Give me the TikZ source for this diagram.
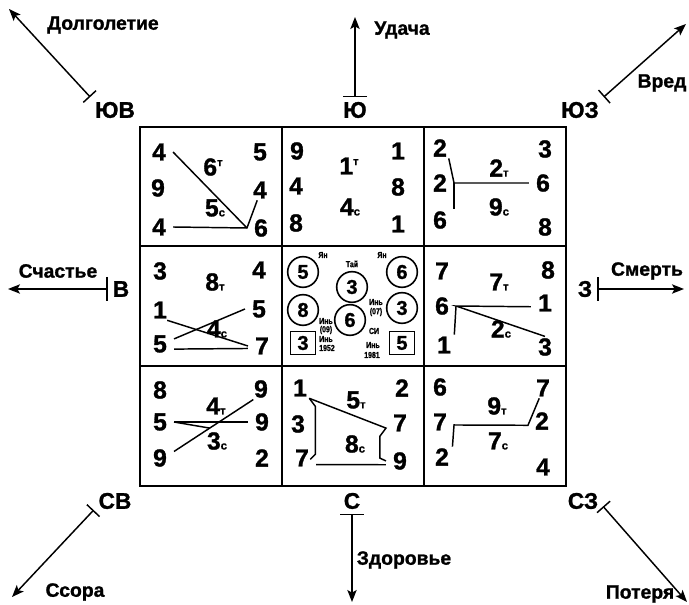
\documentclass[tikz,border=0pt]{standalone}
\usepackage{fontspec}
\setmainfont{Liberation Sans}[BoldFeatures={FakeBold=1.2}]
\newfontfamily\condfont[FakeStretch=0.8,BoldFeatures={FakeBold=1}]{Liberation Sans}
\usetikzlibrary{arrows.meta,calc}

\tikzset{every picture/.style={line width=0.75pt}}
\tikzset{
  digit/.style={inner xsep=5pt,inner ysep=1pt,font=\fontsize{18.5}{18.5}\selectfont\bfseries},
  ring/.style={draw,circle,line width=1.2pt,minimum size=23pt,inner sep=0pt,font=\fontsize{15}{15}\selectfont\bfseries},
  sqbox/.style={draw,rectangle,line width=1.2pt,minimum width=19pt,minimum height=17pt,inner sep=0pt,font=\fontsize{15}{15}\selectfont\bfseries},
  tinylbl/.style={inner sep=0pt,font=\condfont\fontsize{6.5}{6.5}\selectfont\bfseries},
  dirlbl/.style={font=\fontsize{17}{17}\selectfont\bfseries},
  sectorlbl/.style={font=\fontsize{14.5}{14.5}\selectfont\bfseries},
  flyline/.style={line width=1.1pt},
  dirarrow/.style={line width=1.1pt,{Bar[width=#1]}-{Stealth[length=9pt,width=7pt,inset=2pt]}},
  dirarrow/.default=13pt,
}
\newcommand\tsub[1]{{\fontsize{8.5}{8.5}\selectfont #1}}
\newcommand\tsup[1]{\raisebox{7pt}{\fontsize{8.5}{8.5}\selectfont #1}}

\begin{document}
\begin{tikzpicture}[x=0.75pt,y=0.75pt,yscale=-1,xscale=1]
\useasboundingbox (0,0) rectangle (689,605);

%Shape: Square grid
\draw [line width=2.2pt] (140,127) rectangle (566,486);
%Straight Lines
\draw [line width=1.5pt] (282,127) -- (282,486);
\draw [line width=1.5pt] (424,127) -- (424,486);
\draw [line width=1.5pt] (140,246) -- (566,246);
\draw [line width=1.5pt] (140,366) -- (566,366);

% Text Node: directions
\node [dirlbl] (lbl-se) at (115,110) {ЮВ};
\node [dirlbl] (lbl-s) at (355,110) {Ю};
\node [dirlbl] (lbl-sw) at (580,110) {ЮЗ};
\node [dirlbl] (lbl-e) at (121,289) {В};
\node [dirlbl] (lbl-w) at (585,289) {З};
\node [dirlbl] (lbl-ne) at (115,501) {СВ};
\node [dirlbl] (lbl-n) at (352,501) {С};
\node [dirlbl] (lbl-nw) at (583,501) {СЗ};

% Text Node: sectors
\node [sectorlbl] (dolg) at (103,25) {Долголетие};
\node [sectorlbl] (udacha) at (402,30) {Удача};
\node [sectorlbl] (vred) at (662,83) {Вред};
\node [sectorlbl] (schast) at (58,271) {Счастье};
\node [sectorlbl] (smert) at (647,271) {Смерть};
\node [sectorlbl] (ssora) at (75,592) {Ссора};
\node [sectorlbl] (zdorov) at (404,560) {Здоровье};
\node [sectorlbl] (poterya) at (640,594) {Потеря};

\coordinate (dolg-tip) at (9,9);
\coordinate (udacha-tip) at (355,17);
\coordinate (vred-tip) at (686,24);
\coordinate (schast-tip) at (8,289);
\coordinate (smert-tip) at (684,289);
\coordinate (ssora-tip) at (12,597);
\coordinate (zdorov-tip) at (352,602);
\coordinate (poterya-tip) at (687,602);

%Straight Lines: arrows
\draw [dirarrow] (lbl-se.north west) -- (dolg-tip);
\draw [dirarrow=18pt] (lbl-s.north) -- (udacha-tip);
\draw [dirarrow] (lbl-sw.north east) -- (vred-tip);
\draw [dirarrow=18pt] (lbl-e.west) -- (schast-tip);
\draw [dirarrow=18pt] (lbl-w.east) -- (smert-tip);
\draw [dirarrow] (lbl-ne.203) -- (ssora-tip);
\draw [dirarrow=18pt] (lbl-n.south) -- (zdorov-tip);
\draw [dirarrow] (lbl-nw.-15) -- (poterya-tip);

% Text Node: SE cell
\node [digit] (se1) at (159,152) {4};
\node [digit] (se2) at (260,152) {5};
\node [digit] (se3) at (158,188) {9};
\node [digit] (se4) at (260,190) {4};
\node [digit] (se5) at (159,227) {4};
\node [digit] (se6) at (261,228) {6};
\node [digit] (se-t) at (213,167) {6\tsup{т}};
\node [digit] (se-c) at (215,208) {5\tsub{с}};
\draw [flyline] (se1.east) -- (se6.west);
\draw [flyline] (se5.east) -- (se6.west) -- (se4.255);

% Text Node: S cell
\node [digit] (s1) at (297,151) {9};
\node [digit] (s2) at (398,151) {1};
\node [digit] (s3) at (296,186) {4};
\node [digit] (s4) at (398,187) {8};
\node [digit] (s5) at (296,223) {8};
\node [digit] (s6) at (398,224) {1};
\node [digit] (s-t) at (349,166) {1\tsup{т}};
\node [digit] (s-c) at (350,207) {4\tsub{с}};

% Text Node: SW cell
\node [digit] (sw1) at (440,148) {2};
\node [digit] (sw2) at (545,149) {3};
\node [digit] (sw3) at (440,183) {2};
\node [digit] (sw4) at (543,183) {6};
\node [digit] (sw5) at (440,220) {6};
\node [digit] (sw6) at (545,227) {8};
\node [digit] (sw-t) at (499,168) {2\tsub{т}};
\node [digit] (sw-c) at (499,207) {9\tsub{с}};
\draw [flyline] (sw1.310) -- (sw3.east) -- (sw4.west);
\draw [flyline] (sw3.east) -- (sw5.north east);

% Text Node: E cell
\node [digit] (e1) at (160,271) {3};
\node [digit] (e2) at (259,270) {4};
\node [digit] (e3) at (160,310) {1};
\node [digit] (e4) at (259,309) {5};
\node [digit] (e5) at (160,344) {5};
\node [digit] (e6) at (262,346) {7};
\node [digit] (e-t) at (215,282) {8\tsub{т}};
\node [digit] (e-c) at (217,329) {4\tsub{с}};
\draw [flyline] (e3.-55) -- (e6.west);
\draw [flyline] (e5.20) -- (e4.west);
\draw [flyline] (e5.-20) -- (e6.190);

% Center cell
\node [ring] (c-yan1) at (303,272) {5};
\node [ring] (c-tai) at (352,287) {3};
\node [ring] (c-yan2) at (402,272) {6};
\node [ring] (c-yin1) at (303,310) {8};
\node [ring] (c-yin2) at (402,308) {3};
\node [ring] (c-mid) at (350,320) {6};
\node [sqbox] (c-sq1) at (303,343) {3};
\node [sqbox] (c-sq2) at (402,343) {5};
% Text Node
\node [tinylbl] (t-yan1) at (323,255) {Ян};
\node [tinylbl] (t-tai) at (352,264) {Тай};
\node [tinylbl] (t-yan2) at (382,255) {Ян};
\node [tinylbl] (t-yin1) at (376,302) {Инь};
\node [tinylbl] (t-07) at (376,312) {(07)};
\node [tinylbl] (t-yin2) at (326,321) {Инь};
\node [tinylbl] (t-09) at (326,330) {(09)};
\node [tinylbl] (t-yin3) at (326,339) {Инь};
\node [tinylbl] (t-1952) at (327,348) {1952};
\node [tinylbl] (t-si) at (374,331) {СИ};
\node [tinylbl] (t-yin4) at (373,345) {Инь};
\node [tinylbl] (t-1981) at (372,355) {1981};

% Text Node: W cell
\node [digit] (w1) at (442,271) {7};
\node [digit] (w2) at (548,270) {8};
\node [digit] (w3) at (442,306) {6};
\node [digit] (w4) at (545,303) {1};
\node [digit] (w5) at (444,345) {1};
\node [digit] (w6) at (545,347) {3};
\node [digit] (w-t) at (499,282) {7\tsub{т}};
\node [digit] (w-c) at (501,329) {2\tsub{с}};
\draw [flyline] (w4.195) -- (w3.east) -- (w6.north);
\draw [flyline] (w3.east) -- (w5.45);

% Text Node: NE cell
\node [digit] (ne1) at (160,390) {8};
\node [digit] (ne2) at (261,389) {9};
\node [digit] (ne3) at (160,422) {5};
\node [digit] (ne4) at (262,422) {9};
\node [digit] (ne5) at (160,458) {9};
\node [digit] (ne6) at (262,458) {2};
\node [digit] (ne-t) at (216,406) {4\tsub{т}};
\node [digit] (ne-c) at (217,441) {3\tsub{с}};
\coordinate (ne-x) at ($(ne5.25)!0.45!(ne2.234)$);
\draw [flyline] (ne3.east) -- (ne4.west);
\draw [flyline] (ne5.25) -- (ne2.234);
\draw [flyline] (ne3.east) -- (ne-x);

% Text Node: N cell
\node [digit] (n1) at (300,388) {1};
\node [digit] (n2) at (402,388) {2};
\node [digit] (n3) at (298,424) {3};
\node [digit] (n4) at (400,423) {7};
\node [digit] (n5) at (302,458) {7};
\node [digit] (n6) at (400,461) {9};
\node [digit] (n-t) at (356,400) {5\tsub{т}};
\node [digit] (n-c) at (355,444) {8\tsub{с}};
\draw [flyline] (n1.-48) -- (n4.200) -- ++(-6,8) -- ++(0,22) -- (n6.west);
\draw [flyline] (n1.-48) -- ++(6,8) -- ++(0,48) -- ++(-5,5);
\draw [flyline] (n5.-25) -- (n6.195);

% Text Node: NW cell
\node [digit] (nw1) at (440,387) {6};
\node [digit] (nw2) at (543,388) {7};
\node [digit] (nw3) at (440,422) {7};
\node [digit] (nw4) at (542,421) {2};
\node [digit] (nw5) at (442,457) {2};
\node [digit] (nw6) at (543,467) {4};
\node [digit] (nw-t) at (497,406) {9\tsub{т}};
\node [digit] (nw-c) at (498,441) {7\tsub{с}};
\draw [flyline] (nw5.45) -- (nw3.-12) -- (nw4.197) -- (nw2.250);

\end{tikzpicture}
\end{document}
